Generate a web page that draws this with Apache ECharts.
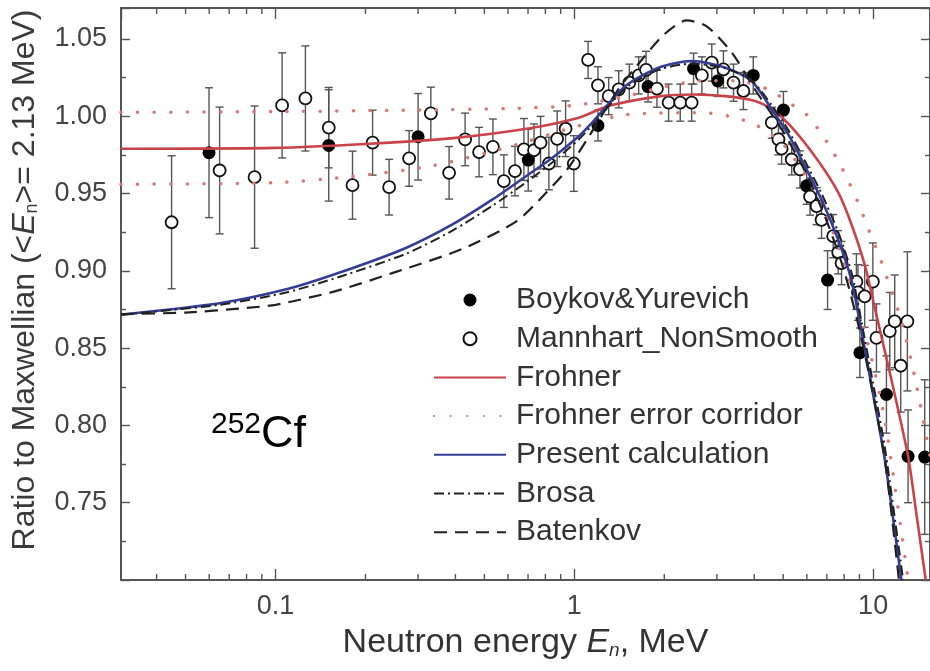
<!DOCTYPE html>
<html><head><meta charset="utf-8">
<script src="https://cdn.jsdelivr.net/npm/echarts@6/dist/echarts.min.js"></script>
<style>html,body{margin:0;padding:0;background:#fff}#c{width:930px;height:671px}</style>
</head><body><div id="c"></div>
<script>
// ---------- data ----------
const xTickLabels = ['0.1', '1', '10'];
const minorXTicks = [0.04,0.05,0.06,0.07,0.08,0.09,0.2,0.3,0.4,0.5,0.6,0.7,0.8,0.9,2,3,4,5,6,7,8,9];
// [E (MeV), ratio, error]
const boykov = [
 [0.0599,0.9764,0.042],[0.1507,0.9811,0.036],[0.300,0.9867,0.028],[0.701,0.9716,0.020],
 [1.20,0.994,0.010],[1.765,1.0192,0.010],[2.506,1.0308,0.010],[3.02,1.0228,0.010],
 [3.97,1.0264,0.012],[5.01,1.004,0.012],[5.99,0.955,0.012],[7.04,0.894,0.019],
 [9.03,0.847,0.016],[11.08,0.820,0.025],[13.09,0.780,0.030],[14.88,0.7795,0.050]
];
const mannhart = [
 [0.0449,0.9314,0.043],[0.0650,0.9649,0.041],[0.0851,0.9606,0.046],[0.1052,1.0070,0.034],
 [0.1259,1.0115,0.034],[0.1507,0.9926,0.026],[0.181,0.9554,0.022],[0.2113,0.9829,0.021],
 [0.240,0.9541,0.018],[0.280,0.9727,0.018],[0.331,1.0018,0.017],[0.381,0.9634,0.017],
 [0.431,0.985,0.017],[0.480,0.9768,0.016],[0.534,0.9802,0.018],[0.581,0.958,0.017],
 [0.633,0.9645,0.016],[0.678,0.9785,0.020],[0.733,0.978,0.017],[0.771,0.9829,0.017],
 [0.822,0.9694,0.017],[0.876,0.9854,0.018],[0.935,0.9919,0.018],[0.996,0.9694,0.018],
 [1.112,1.0364,0.012],[1.20,1.020,0.012],[1.303,1.013,0.012],[1.408,1.0174,0.012],
 [1.528,1.0217,0.012],[1.642,1.0264,0.012],[1.738,1.030,0.012],[1.89,1.0178,0.012],
 [2.068,1.0088,0.012],[2.262,1.0088,0.012],[2.47,1.0088,0.012],[2.672,1.0264,0.012],
 [2.884,1.0347,0.012],[3.155,1.0303,0.012],[3.41,1.0217,0.012],[3.68,1.0163,0.012],
 [4.58,0.9958,0.010],[4.82,0.985,0.010],[4.94,0.979,0.010],[5.34,0.972,0.010],
 [5.69,0.9656,0.012],[6.15,0.948,0.012],[6.47,0.9418,0.012],[6.72,0.933,0.012],
 [7.35,0.9224,0.014],[7.64,0.912,0.014],[7.84,0.905,0.014],[8.79,0.893,0.018],
 [8.9,0.886,0.018],[9.37,0.8835,0.020],[9.98,0.893,0.025],[10.26,0.8566,0.022],
 [11.37,0.861,0.025],[11.81,0.8673,0.030],[12.37,0.8386,0.030],[13.02,0.8673,0.045]
];
const frohnerE = [0.0304,0.1,0.2,0.4,0.7,1.035,1.3,1.95,2.5,3.2,4.0,4.58,5.3,6.5,7.64,8.5,9.4,10.1,11.5,13.09,14.0,15.0];
const frohnerV = [0.979,0.9795,0.982,0.986,0.992,0.999,1.0066,1.013,1.014,1.013,1.010,1.0044,0.9936,0.972,0.9507,0.929,0.903,0.877,0.83,0.780,0.741,0.70];
const corrUpE = [0.0304,0.1,0.3,0.6,1.0,1.5,2.0,2.7,3.5,4.5,5.2,5.98,6.64,7.26,7.84,8.36,8.91,9.38,9.87,10.39,10.94,12.5,14.0,15.5];
const corrUpV = [1.0025,1.003,1.004,1.005,1.007,1.013,1.019,1.023,1.023,1.017,1.009,1.0012,0.990,0.9785,0.967,0.956,0.944,0.933,0.922,0.9116,0.8997,0.866,0.825,0.78];
const corrLoE = [0.0304,0.1,0.18,0.33,0.6,1.0,1.5,2.7,3.3,3.9,4.3,5.0,6.0,7.0,8.0,9.6,10.94,13.1];
const corrLoV = [0.956,0.957,0.961,0.9677,0.980,0.993,1.001,1.0023,1.0,0.9958,0.9915,0.982,0.960,0.935,0.905,0.853,0.8036,0.70];
const presentE = [0.0304,0.065,0.1086,0.163,0.273,0.391,0.531,0.687,0.843,1.035,1.147,1.483,1.914,2.47,3.2,3.92,4.58,5.2,5.91,6.72,7.64,8.46,9.14,10.0,10.94,12.43];
const presentV = [0.8716,0.879,0.888,0.8987,0.9148,0.930,0.946,0.961,0.973,0.987,0.9958,1.0195,1.0314,1.0357,1.0314,1.0228,1.0044,0.9882,0.9677,0.946,0.920,0.894,0.861,0.82,0.778,0.70];
const brosaE = [0.0304,0.065,0.1086,0.163,0.273,0.391,0.531,0.687,0.843,1.035,1.147,1.483,1.914,2.47,3.2,3.92,4.58,5.2,5.91,6.72,7.64,8.46,9.14,10.0,10.94,12.6];
const brosaV = [0.8716,0.878,0.886,0.896,0.911,0.926,0.942,0.957,0.970,0.985,0.994,1.018,1.030,1.034,1.031,1.023,1.007,0.991,0.971,0.950,0.925,0.899,0.867,0.827,0.786,0.70];
const batenkovE = [0.0304,0.05,0.08,0.1,0.16,0.25,0.42,0.64,0.8,0.95,1.12,1.4,1.69,2.0,2.375,2.78,3.37,4.0,5.0,6.0,7.0,8.0,9.0,10.0,11.0,12.2];
const batenkovV = [0.872,0.873,0.876,0.878,0.887,0.899,0.914,0.932,0.950,0.966,0.987,1.017,1.037,1.053,1.062,1.058,1.041,1.018,0.990,0.962,0.932,0.900,0.862,0.820,0.775,0.70];
const legendNames = ['Boykov&Yurevich','Mannhart_NonSmooth','Frohner','Frohner error corridor','Present calculation','Brosa','Batenkov'];

// ---------- chart ----------
const FONT = "'Liberation Sans', Arial, Helvetica, sans-serif";
const AX = '#555';
const zip = (a, b) => a.map((v, i) => [v, b[i]]);
const X_MIN = 0.0304, X_MAX = 15.5;

function renderErr(params, api) {
  const x = api.value(0), y = api.value(1), e = api.value(2);
  const t = api.coord([x, y + e]), b = api.coord([x, y - e]);
  const w = 4, st = { stroke: '#555', lineWidth: 1.4 };
  return { type: 'group', children: [
    { type: 'line', shape: { x1: t[0], y1: t[1], x2: b[0], y2: b[1] }, style: st },
    { type: 'line', shape: { x1: t[0] - w, y1: t[1], x2: t[0] + w, y2: t[1] }, style: st },
    { type: 'line', shape: { x1: b[0] - w, y1: b[1], x2: b[0] + w, y2: b[1] }, style: st }
  ]};
}
function renderMinor(params, api) {
  const cs = params.coordSys;
  const p = api.coord([api.value(0), 0.8]);
  const bot = cs.y + cs.height, top = cs.y, L = 6;
  const st = { stroke: AX, lineWidth: 1.4 };
  return { type: 'group', children: [
    { type: 'line', shape: { x1: p[0], y1: bot, x2: p[0], y2: bot - L }, style: st },
    { type: 'line', shape: { x1: p[0], y1: top, x2: p[0], y2: top + L }, style: st }
  ]};
}

function curve(name, e, v, color, width, dash) {
  return { type: 'line', name: name, data: zip(e, v), symbol: 'none', showSymbol: false,
    smooth: 0.25, z: 5, silent: true,
    itemStyle: { color: color, opacity: 0 },
    lineStyle: Object.assign({ color: color, width: width }, dash || {}) };
}
const yCommon = {
  type: 'value', min: 0.70, max: 1.07, interval: 0.05,
  axisLine: { show: true, lineStyle: { color: AX, width: 2 } },
  axisTick: { show: true, inside: true, length: 9, lineStyle: { color: AX, width: 1.4 } },
  minorTick: { show: true, splitNumber: 2, length: 5, lineStyle: { color: AX, width: 1.4 } },
  splitLine: { show: false }
};
const DOT = { type: [0.1, 16.5], cap: 'round' };

const option = {
  animation: false,
  backgroundColor: '#fff',
  grid: { left: 121, right: -2, top: 8, bottom: 91 },
  xAxis: [
    { type: 'log', logBase: 10, min: X_MIN, max: X_MAX, position: 'bottom',
      name: 'Neutron energy {i|E}{s|n}, MeV', nameLocation: 'middle', nameGap: 46,
      nameTextStyle: { fontSize: 34, color: '#333', fontFamily: FONT,
        rich: { i: { fontSize: 34, fontStyle: 'italic', color: '#333', fontFamily: FONT },
                s: { fontSize: 19, fontStyle: 'italic', color: '#333', fontFamily: FONT, verticalAlign: 'bottom', lineHeight: 14 } } },
      axisLine: { show: true, lineStyle: { color: AX, width: 2 } },
      axisTick: { show: true, inside: true, length: 11, lineStyle: { color: AX, width: 1.4 } },
      axisLabel: { fontSize: 27, color: '#444', fontFamily: FONT, margin: 13, showMinLabel: false, showMaxLabel: false,
        formatter: v => { const i = [0.1, 1, 10].findIndex(t => Math.abs(t - v) / t < 1e-6); return i >= 0 ? xTickLabels[i] : ''; } },
      splitLine: { show: false } },
    { type: 'log', logBase: 10, min: X_MIN, max: X_MAX, position: 'top',
      axisLine: { show: true, lineStyle: { color: AX, width: 2 } },
      axisTick: { show: true, inside: true, length: 11, lineStyle: { color: AX, width: 1.4 } },
      axisLabel: { show: false }, splitLine: { show: false } }
  ],
  yAxis: [
    Object.assign({}, yCommon, { position: 'left',
      name: 'Ratio to Maxwellian (<{i|E}{s|n}>= 2.13 MeV)', nameLocation: 'middle', nameGap: 80,
      nameTextStyle: { fontSize: 32, color: '#3a3a3a', fontFamily: FONT, padding: [0, 0, 0, 28],
        rich: { i: { fontSize: 32, fontStyle: 'italic', color: '#3a3a3a', fontFamily: FONT },
                s: { fontSize: 18, color: '#3a3a3a', fontFamily: FONT, verticalAlign: 'bottom', lineHeight: 14 } } },
      axisLabel: { fontSize: 27, color: '#444', fontFamily: FONT, margin: 14, showMinLabel: false, showMaxLabel: false,
        formatter: v => v.toFixed(2) } }),
    Object.assign({}, yCommon, { position: 'right', axisLabel: { show: false } })
  ],
  legend: {
    orient: 'vertical', left: 433, top: 285, padding: 0,
    itemWidth: 72, itemHeight: 13, itemGap: 8.7, selectedMode: false,
    textStyle: { fontSize: 30, color: '#333', fontFamily: FONT, lineHeight: 30, padding: [0, 0, 0, 5] },
    data: legendNames
  },
  graphic: [{
    type: 'text', left: 211, top: 410, z: 10,
    style: { text: '{s|252}{b|Cf}', fill: '#000',
      rich: { s: { fontSize: 30, fontFamily: FONT, fill: '#000', verticalAlign: 'top', lineHeight: 50 },
              b: { fontSize: 45, fontFamily: FONT, fill: '#000', lineHeight: 50 } } }
  }],
  series: [
    { type: 'custom', renderItem: renderMinor, data: minorXTicks.map(v => [v, 0.8]), silent: true, z: 1, clip: false },
    { type: 'custom', renderItem: renderErr, data: boykov.concat(mannhart), silent: true, z: 2, encode: { x: 0, y: 1 } },
    { name: legendNames[0], type: 'scatter', data: boykov.map(d => [d[0], d[1]]), symbol: 'circle', symbolSize: 13,
      itemStyle: { color: '#000', opacity: 1 }, z: 3 },
    { name: legendNames[1], type: 'scatter', data: mannhart.map(d => [d[0], d[1]]), symbol: 'circle', symbolSize: 12,
      itemStyle: { color: '#fff', borderColor: '#111', borderWidth: 1.8, opacity: 1 }, z: 3 },
    curve(legendNames[2], frohnerE, frohnerV, '#c9434a', 2.6),
    curve(legendNames[3], corrUpE, corrUpV, '#d77a78', 3.5, DOT),
    curve(legendNames[3], corrLoE, corrLoV, '#d77a78', 3.5, DOT),
    curve(legendNames[4], presentE, presentV, '#353d98', 2.6),
    curve(legendNames[5], brosaE, brosaV, '#222', 2, { type: [10, 4, 2, 4] }),
    curve(legendNames[6], batenkovE, batenkovV, '#222', 2.2, { type: [13, 8] })
  ]
};
const chart = echarts.init(document.getElementById('c'), null, { renderer: 'canvas' });
chart.setOption(option);
</script>
</body></html>
